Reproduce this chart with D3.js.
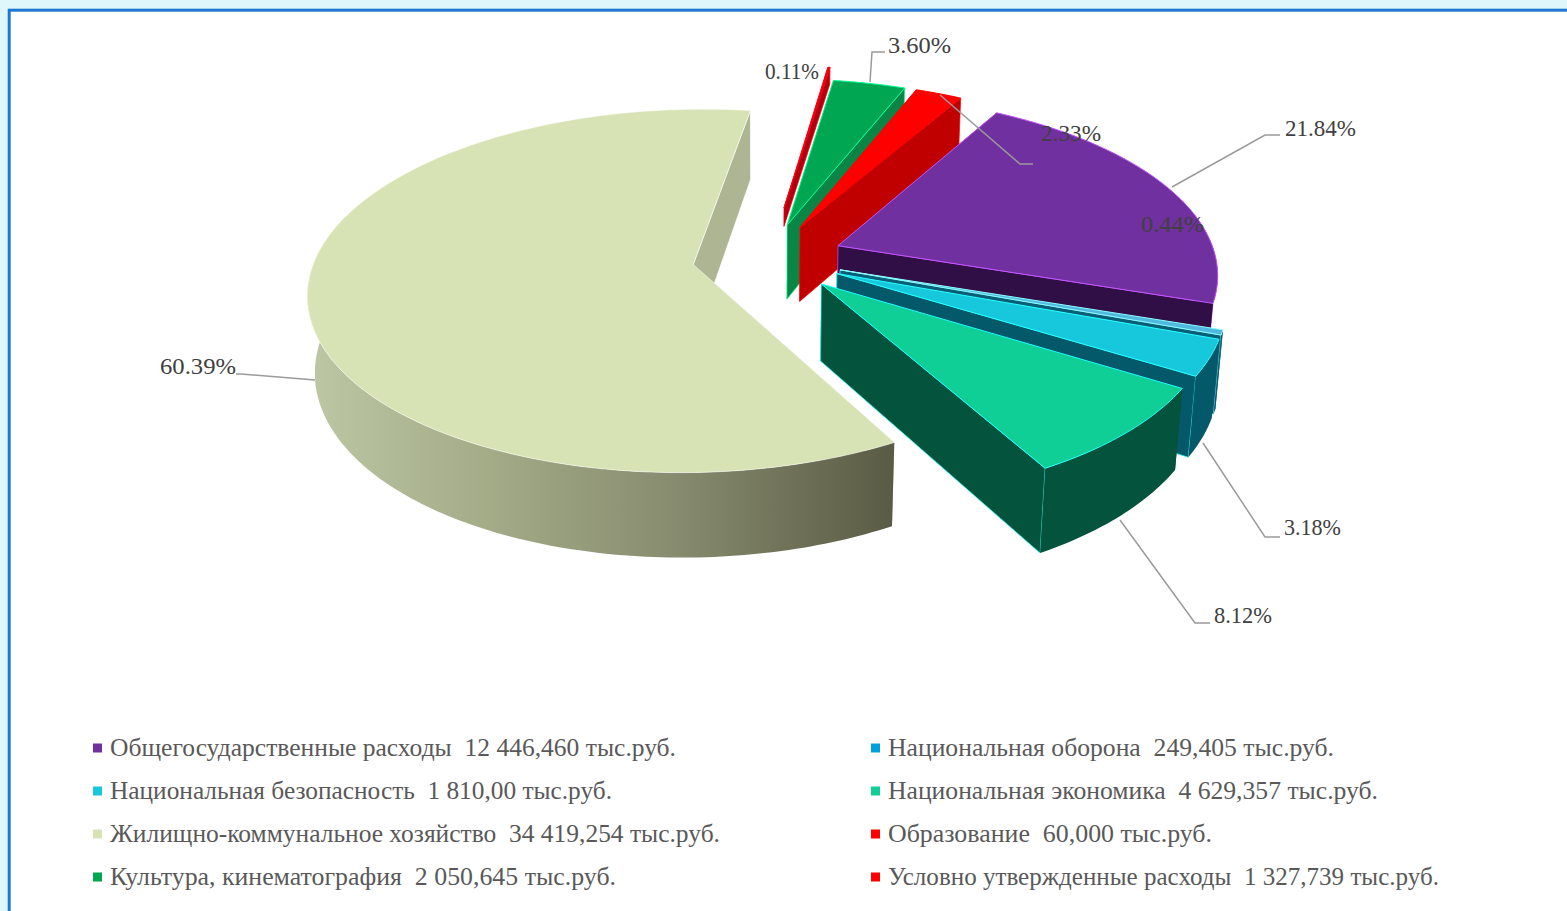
<!DOCTYPE html>
<html>
<head>
<meta charset="utf-8">
<script src="https://cdn.jsdelivr.net/npm/d3@7"></script>
<style>
    html, body { margin: 0; padding: 0; background: #dff6fb; overflow: hidden; }
    svg { display: block; }
    text { font-family: "Liberation Serif", serif; white-space: pre; }
</style>
</head>
<body>
<script>
const categories = [
    'Общегосударственные расходы',
    'Национальная оборона',
    'Национальная безопасность',
    'Национальная экономика',
    'Жилищно-коммунальное хозяйство',
    'Образование',
    'Культура, кинематография',
    'Условно утвержденные расходы'
]
const amounts = ['12 446,460', '249,405', '1 810,00', '4 629,357', '34 419,254', '60,000', '2 050,645', '1 327,739']
const percents = [21.84, 0.44, 3.18, 8.12, 60.39, 0.11, 3.60, 2.33]
const topColors = ['#7030a0', '#4fb9e0', '#17c8dc', '#10cf96', '#d8e3b5', '#e8000a', '#00a651', '#ff0000']
const wallColors = ['#2f0f45', '#0a5f78', '#03586a', '#04533c', '#adb592', '#b00010', '#0a8545', '#c00000']
const explode = [0.2, 0.2, 0.2, 0.2, 0.2, 0.3, 0.2, 0.2]
const wallHeights = [1, 1, 1, 1, 1, 0.25, 1, 1]
const legendMarks = ['#7030a0', '#00a0dc', '#17c8dc', '#10cf96', '#d8e3b5', '#ff0000', '#00a651', '#ff0000']
const legendWidths = [566, 446, 502, 490, 610, 324, 506, 551]

// label anchor and width, then leader polyline
const labelSpots = [
    {x: 1285, y: 136, w: 71, leader: [[1280, 135], [1265, 135], [1172, 187]]},
    {x: 1141, y: 232, w: 63, leader: null},
    {x: 1284, y: 535, w: 57, leader: [[1280, 537], [1265, 537], [1203, 443]]},
    {x: 1214, y: 623, w: 58, leader: [[1210, 623], [1195, 623], [1120, 520]]},
    {x: 160, y: 374, w: 76, leader: [[236, 374], [241, 374], [315, 380]]},
    {x: 765, y: 79, w: 54, leader: null},
    {x: 888, y: 53, w: 63, leader: [[885, 52], [872, 52], [870, 82]]},
    {x: 1041, y: 141, w: 60, leader: [[1033, 164], [1020, 164], [940, 95]]}
]

const width = 1567
const height = 911

// flat perspective of the pie plane, fitted to the picture
const view = {x0: 768, y0: 258, a: 378, b: 176, p: 0.145, q: 0.016, h: 77}

const project = (u, v, z) => {
    const w = 1 - view.p * v + view.q * z
    return [view.x0 + view.a * u / w, view.y0 + (view.b * v + view.h * z) / w]
}

const svg = d3.select('body')
    .append('svg')
    .attr('width', width)
    .attr('height', height)

svg.append('rect')
    .attr('x', 9.2)
    .attr('y', 10.2)
    .attr('width', width + 20)
    .attr('height', height + 20)
    .attr('fill', '#ffffff')
    .attr('stroke', '#1e78d2')
    .attr('stroke-width', 3)

const rimGradient = svg.append('defs')
    .append('linearGradient')
    .attr('id', 'rim-gradient')
    .attr('gradientUnits', 'userSpaceOnUse')
    .attr('x1', 315).attr('x2', 893)
    .attr('y1', 0).attr('y2', 0)
rimGradient.append('stop').attr('offset', '0%').attr('stop-color', '#bcc6a2')
rimGradient.append('stop').attr('offset', '30%').attr('stop-color', '#a3ab87')
rimGradient.append('stop').attr('offset', '62%').attr('stop-color', '#878c6f')
rimGradient.append('stop').attr('offset', '100%').attr('stop-color', '#5a5b44')

const startAngle = 30 * Math.PI / 180
const arcs = d3.pie()
    .sort(null)
    .startAngle(startAngle)
    .endAngle(startAngle + 2 * Math.PI)
    .value(d => d)(percents)

const line = d3.line()
const pieGroup = svg.append('g').attr('id', 'pie')

// back slices first, the big one last
const drawOrder = [5, 6, 7, 0, 1, 2, 3, 4]

drawOrder.forEach(i => {
    const a = arcs[i]
    const mid = (a.startAngle + a.endAngle) / 2
    const ox = explode[i] * Math.sin(mid)
    const oy = -explode[i] * Math.cos(mid)
    const z1 = wallHeights[i]
    const at = (t, r, z) => project(ox + r * Math.sin(t), oy - r * Math.cos(t), z)

    const steps = Math.max(2, Math.ceil((a.endAngle - a.startAngle) * 180 / Math.PI))
    const angles = d3.range(steps + 1).map(k => a.startAngle + (a.endAngle - a.startAngle) * k / steps)

    const g = pieGroup.append('g').attr('class', 'slice')
    const edge = d3.color(topColors[i]).brighter(1.6).formatHex()

    const wall = t => [at(t, 0, 0), at(t, 1, 0), at(t, 1, z1), at(t, 0, z1)]
    g.append('path').attr('d', line(wall(a.startAngle)) + 'Z').attr('fill', wallColors[i])
    g.append('path').attr('d', line(wall(a.endAngle)) + 'Z').attr('fill', wallColors[i])
        .attr('stroke', edge).attr('stroke-width', 0.7)

    // only the part of the rim that faces the viewer
    const front = angles.filter(t => Math.cos(t) < 0.3)
    if (front.length > 1) {
        const rim = front.map(t => at(t, 1, 0)).concat(front.slice().reverse().map(t => at(t, 1, z1)))
        g.append('path').attr('d', line(rim) + 'Z')
            .attr('fill', i === 4 ? 'url(#rim-gradient)' : wallColors[i])
    }

    const top = [at(0, 0, 0)].concat(angles.map(t => at(t, 1, 0)))
    g.append('path').attr('d', line(top) + 'Z')
        .attr('fill', topColors[i])
        .attr('stroke', edge)
        .attr('stroke-width', i === 4 ? 0.5 : 1)
})

const labels = svg.append('g').attr('id', 'labels')

labels.selectAll('path')
    .data(labelSpots.filter(d => d.leader))
    .enter()
    .append('path')
    .attr('d', d => line(d.leader))
    .attr('fill', 'none')
    .attr('stroke', '#9a9a9a')
    .attr('stroke-width', 1.5)

labels.selectAll('text')
    .data(percents)
    .enter()
    .append('text')
    .attr('x', (d, i) => labelSpots[i].x)
    .attr('y', (d, i) => labelSpots[i].y)
    .attr('textLength', (d, i) => labelSpots[i].w)
    .attr('lengthAdjust', 'spacingAndGlyphs')
    .attr('font-size', 24)
    .attr('fill', '#404040')
    .text(d => d.toFixed(2) + '%')

const rowY = d3.scalePoint().domain([0, 1, 2, 3]).range([748, 877])
const colX = d3.scalePoint().domain([0, 1]).range([93, 871])

const legend = svg.append('g').attr('id', 'legend')
const item = legend.selectAll('g')
    .data(categories)
    .enter()
    .append('g')
    .attr('transform', (d, i) => `translate(${colX(i % 2)},${rowY(Math.floor(i / 2))})`)

item.append('rect')
    .attr('y', -4.5)
    .attr('width', 9)
    .attr('height', 9)
    .attr('fill', (d, i) => legendMarks[i])

item.append('text')
    .attr('x', 17)
    .attr('y', 8)
    .attr('font-size', 25)
    .attr('fill', '#595959')
    .attr('textLength', (d, i) => legendWidths[i])
    .attr('lengthAdjust', 'spacingAndGlyphs')
    .text((d, i) => `${d}  ${amounts[i]} тыс.руб.`)
</script>
</body>
</html>
